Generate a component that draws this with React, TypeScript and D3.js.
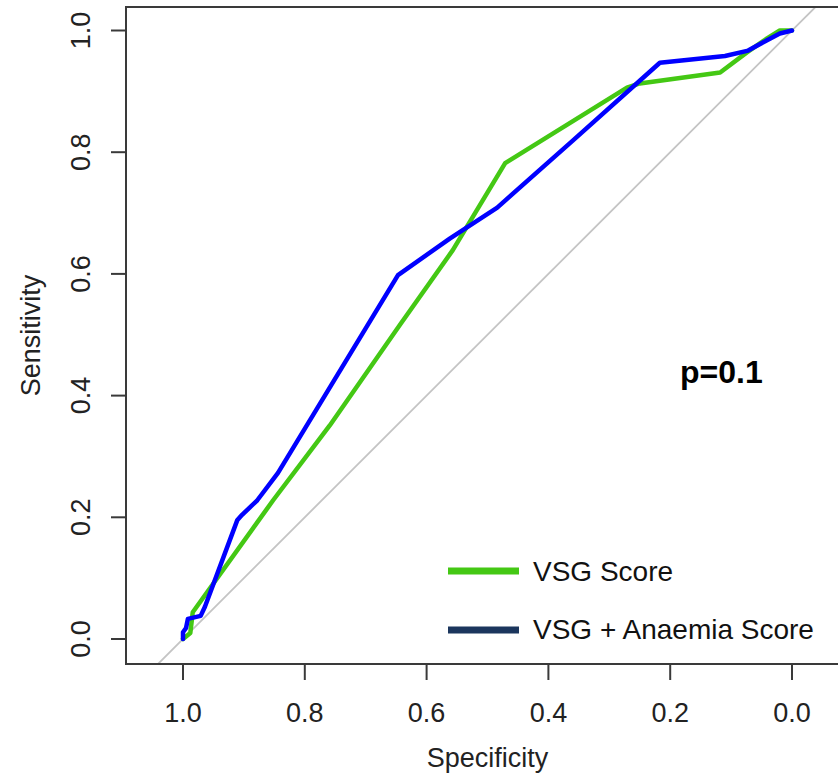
import React from "react";
import * as d3 from "d3";

const vsgSpecificity = [1.0, 0.988, 0.984, 0.852, 0.759, 0.644, 0.557, 0.471, 0.271, 0.25, 0.118, 0.074, 0.041, 0.02, 0.0];
const vsgSensitivity = [0.0, 0.01, 0.044, 0.228, 0.351, 0.516, 0.639, 0.782, 0.906, 0.913, 0.931, 0.964, 0.987, 1.0, 1.0];

const comboSpecificity = [1.0, 1.0, 0.995, 0.992, 0.971, 0.964, 0.911, 0.903, 0.878, 0.844, 0.647, 0.562, 0.484, 0.36, 0.217, 0.11, 0.072, 0.041, 0.02, 0.0];
const comboSensitivity = [0.0, 0.011, 0.018, 0.033, 0.038, 0.053, 0.195, 0.204, 0.228, 0.273, 0.598, 0.658, 0.709, 0.819, 0.947, 0.958, 0.967, 0.984, 0.995, 1.0];

const xTicks = [1.0, 0.8, 0.6, 0.4, 0.2, 0.0];
const yTicks = [0.0, 0.2, 0.4, 0.6, 0.8, 1.0];
const seriesNames = ["VSG Score", "VSG + Anaemia Score"];
const legendColors = ["#44c814", "#1b365d"];
const lineColors = ["#44c814", "#0000ff"];
const annotation = "p=0.1";

export default function App() {
  const W = 838, H = 781;
  const left = 126, top = 7, bottom = 664, right = 849;
  const x = d3.scaleLinear().domain([1, 0]).range([183, 792]);
  const y = d3.scaleLinear().domain([0, 1]).range([639, 30.5]);
  const line = d3.line<[number, number]>().x(d => x(d[0])).y(d => y(d[1]));
  const vsg = vsgSpecificity.map((s, i) => [s, vsgSensitivity[i]] as [number, number]);
  const combo = comboSpecificity.map((s, i) => [s, comboSensitivity[i]] as [number, number]);
  const font = "Liberation Sans, Arial, sans-serif";
  const axisColor = "#3a3a3a";
  const spLeft = x.invert(left), spRight = x.invert(right);
  const diag: [number, number][] = [[spLeft, 1 - spLeft], [spRight, 1 - spRight]];

  return (
    <svg width={W} height={H} style={{ position: "absolute", left: 0, top: 0, background: "#fff" }} fontFamily={font}>
      <defs>
        <clipPath id="plotclip">
          <rect x={left} y={top} width={right - left} height={bottom - top} />
        </clipPath>
      </defs>
      <rect x={0} y={0} width={W} height={H} fill="#fff" />
      <g clipPath="url(#plotclip)">
        <path d={line(diag) || ""} stroke="#c4c4c4" strokeWidth={1.8} fill="none" />
        <path d={line(vsg) || ""} stroke={lineColors[0]} strokeWidth={4.5} fill="none" strokeLinejoin="round" strokeLinecap="round" />
        <path d={line(combo) || ""} stroke={lineColors[1]} strokeWidth={4.5} fill="none" strokeLinejoin="round" strokeLinecap="round" />
      </g>
      <path d={`M${right},${top}H${left}V${bottom}H${right}`} stroke={axisColor} strokeWidth={2} fill="none" />
      {xTicks.map(t => (
        <g key={"x" + t}>
          <line x1={x(t)} x2={x(t)} y1={bottom} y2={bottom + 16} stroke={axisColor} strokeWidth={2} />
          <text x={x(t)} y={722} textAnchor="middle" fontSize={27} fill="#222">{t.toFixed(1)}</text>
        </g>
      ))}
      {yTicks.map(t => (
        <g key={"y" + t}>
          <line x1={left - 15} x2={left} y1={y(t)} y2={y(t)} stroke={axisColor} strokeWidth={2} />
          <text transform={`translate(90,${y(t)}) rotate(-90)`} textAnchor="middle" fontSize={27} fill="#222">{t.toFixed(1)}</text>
        </g>
      ))}
      <text x={(left + right) / 2} y={767} textAnchor="middle" fontSize={27} fill="#222">Specificity</text>
      <text transform={`translate(40,${(top + bottom) / 2}) rotate(-90)`} textAnchor="middle" fontSize={27} fill="#222">Sensitivity</text>
      <text x={680} y={383} fontSize={32} fontWeight="bold" fill="#000">{annotation}</text>
      {seriesNames.map((n, i) => (
        <g key={n}>
          <line x1={448} x2={519} y1={571 + i * 59} y2={571 + i * 59} stroke={legendColors[i]} strokeWidth={7} />
          <text x={533} y={581 + i * 58} fontSize={28} fill="#111">{n}</text>
        </g>
      ))}
    </svg>
  );
}
